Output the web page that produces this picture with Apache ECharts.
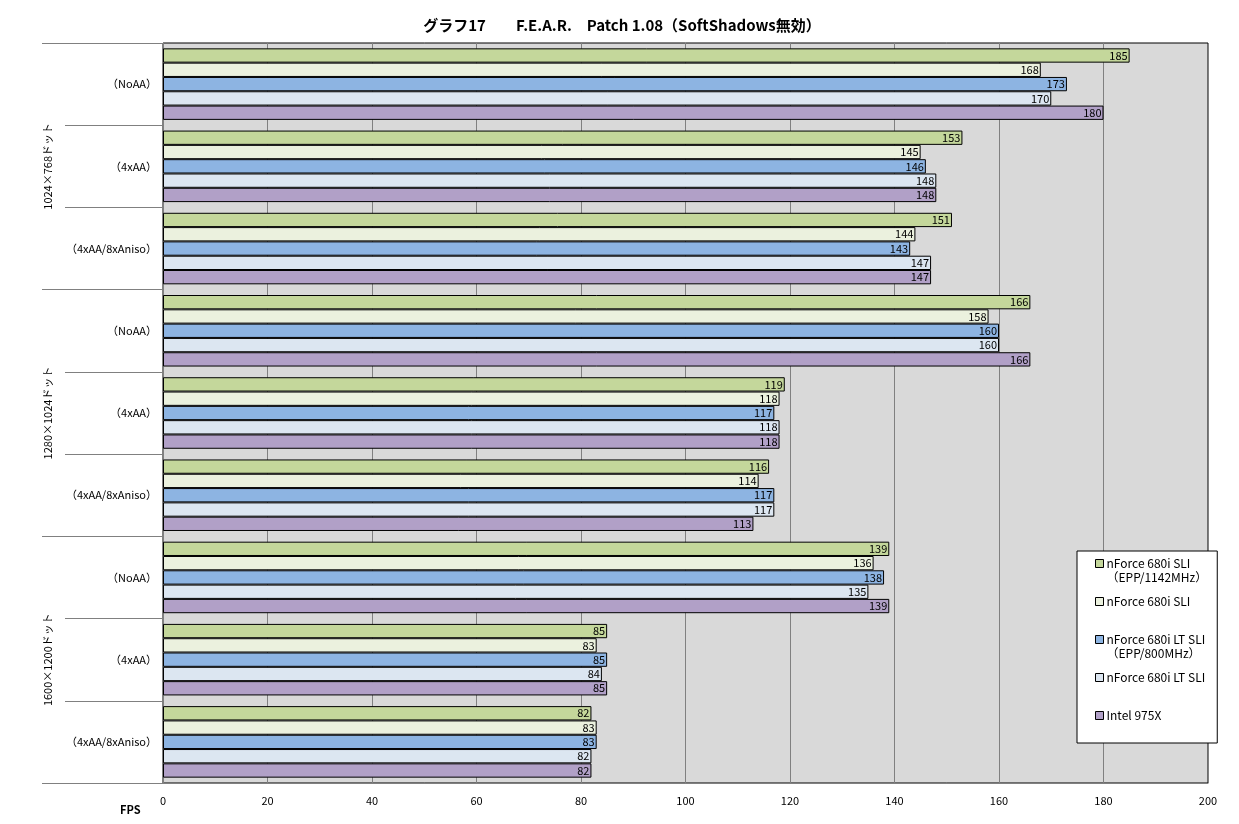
<!DOCTYPE html>
<html>
<head>
<meta charset="utf-8">
<script src="https://cdn.jsdelivr.net/npm/echarts@6/dist/echarts.min.js"></script>
<style>
  html, body { margin: 0; padding: 0; background: #fff; }
  #chart { width: 1239px; height: 824px; }
</style>
</head>
<body>
<div id="chart"></div>
<script>
// データ
var categories = ["（NoAA）", "（4xAA）", "（4xAA/8xAniso）",
                  "（NoAA）", "（4xAA）", "（4xAA/8xAniso）",
                  "（NoAA）", "（4xAA）", "（4xAA/8xAniso）"];
var groups = ["1024×768ドット", "1280×1024ドット", "1600×1200ドット"];
var seriesNames = ["nForce 680i SLI\n（EPP/1142MHz）", "nForce 680i SLI",
                   "nForce 680i LT SLI\n（EPP/800MHz）", "nForce 680i LT SLI", "Intel 975X"];
var colors = ["#c4d79b", "#ebf1de", "#8db4e2", "#dce6f1", "#b1a0c7"];

var sli1142 = [185, 153, 151, 166, 119, 116, 139, 85, 82];
var sli = [168, 145, 144, 158, 118, 114, 136, 83, 83];
var lt800 = [173, 146, 143, 160, 117, 117, 138, 85, 83];
var lt = [170, 148, 147, 160, 118, 117, 135, 84, 82];
var intel = [180, 148, 147, 166, 118, 113, 139, 85, 82];
var values = [sli1142, sli, lt800, lt, intel];

var xTicks = { min: 0, max: 200, interval: 20 };

var font = "'Noto Sans CJK JP', sans-serif";

var chart = echarts.init(document.getElementById("chart"));

var series = values.map(function (d, i) {
  return {
    name: seriesNames[i],
    type: "bar",
    data: d,
    barGap: 0,
    barCategoryGap: "13%",
    itemStyle: { color: colors[i], borderColor: "#000", borderWidth: 1 },
    label: {
      show: true,
      position: "insideRight",
      distance: 2,
      color: "#000",
      fontSize: 11,
      fontFamily: font
    }
  };
});

// 凡例アイコンは1行目に揃える（透明な移動点で高さを28にする）
var legendIcon = "path://M0,0M0,3L8,3L8,11L0,11ZM8,28";

var option = {
  animation: false,
  title: {
    text: "グラフ17　　F.E.A.R.　Patch 1.08（SoftShadows無効）",
    left: 617,
    textAlign: "center",
    top: 13,
    textStyle: { fontSize: 15, fontWeight: "bold", color: "#000", fontFamily: font }
  },
  legend: {
    orient: "vertical",
    left: 1077,
    top: 551,
    padding: [5, 10, 6, 18],
    backgroundColor: "#fff",
    borderColor: "#000",
    borderWidth: 1,
    borderRadius: 0,
    itemGap: 9,
    itemWidth: 8,
    itemHeight: 28,
    icon: legendIcon,
    itemStyle: { borderColor: "#000", borderWidth: 1 },
    formatter: function (name) {
      return name.indexOf("\n") < 0 ? name + "\n " : name;
    },
    textStyle: { fontSize: 12, color: "#000", fontFamily: font, lineHeight: 14, padding: [0, 0, 0, -2] },
    data: seriesNames
  },
  grid: {
    left: 163,
    right: 31,
    top: 43,
    bottom: 41,
    show: true,
    backgroundColor: "#d9d9d9",
    borderColor: "#000",
    borderWidth: 1
  },
  graphic: [
    {
      type: "text",
      left: 120,
      top: 804,
      style: { text: "FPS", fontSize: 11, fontWeight: "bold", fill: "#000", fontFamily: font }
    }
  ],
  xAxis: {
    type: "value",
    min: xTicks.min,
    max: xTicks.max,
    interval: xTicks.interval,
    axisLine: { show: true, lineStyle: { color: "#808080", width: 1 } },
    axisTick: { show: false },
    axisLabel: { color: "#000", fontSize: 11, fontFamily: font, margin: 12 },
    splitLine: { show: true, lineStyle: { color: "#808080", width: 1 } }
  },
  yAxis: [
    {
      type: "category",
      data: categories,
      inverse: true,
      position: "left",
      axisLine: { show: true, lineStyle: { color: "#808080", width: 1 } },
      axisTick: { show: true, length: 98, lineStyle: { color: "#808080" } },
      axisLabel: { color: "#000", fontSize: 11, fontFamily: font, margin: 6 }
    },
    {
      type: "category",
      data: groups,
      inverse: true,
      position: "left",
      offset: 0,
      axisLine: { show: false },
      axisTick: { show: true, length: 121, lineStyle: { color: "#808080" } },
      axisLabel: { color: "#000", fontSize: 11, fontFamily: font, rotate: 90, margin: 110 }
    }
  ],
  series: series
};

chart.setOption(option);
</script>
</body>
</html>
